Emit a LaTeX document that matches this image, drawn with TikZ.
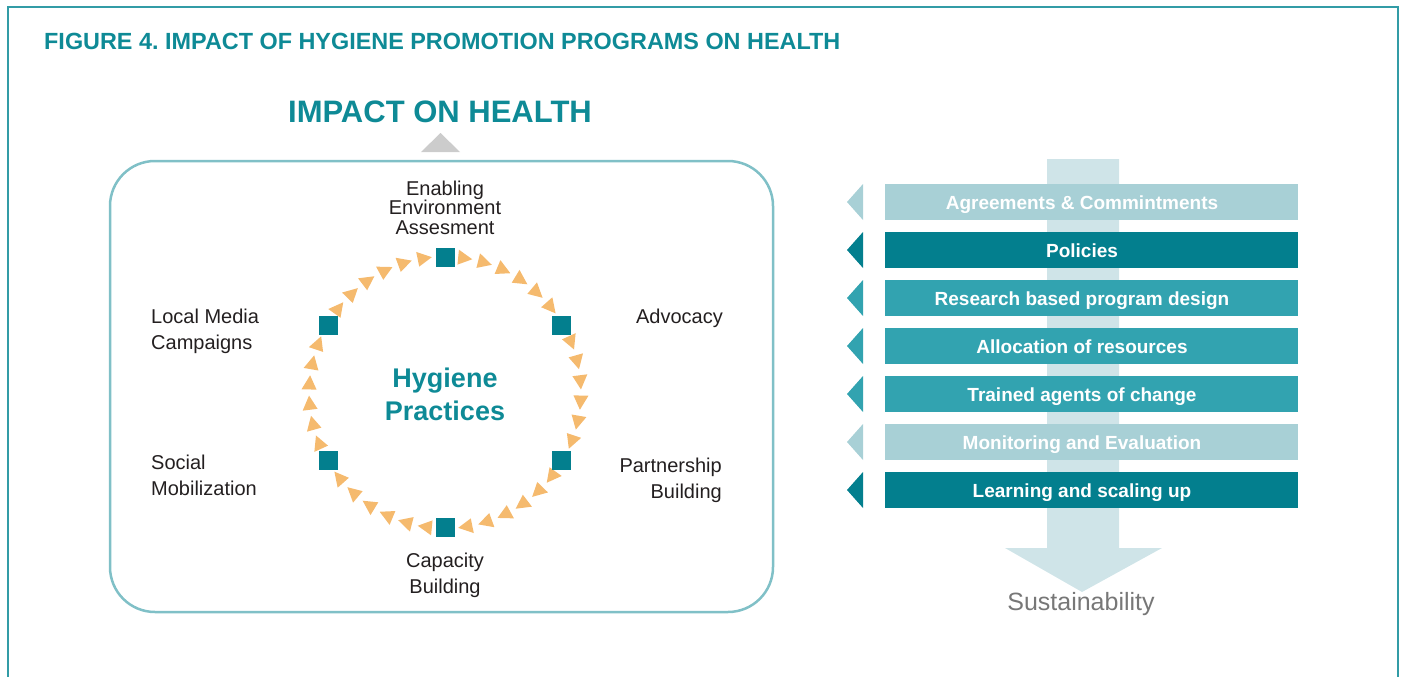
\documentclass[tikz,border=0pt]{standalone}
\usepackage{fontspec}
\setmainfont{Liberation Sans}
\definecolor{tealdark}{HTML}{037F8E}
\definecolor{tealmid}{HTML}{32A3B0}
\definecolor{teallight}{HTML}{A8D0D6}
\definecolor{tealband}{HTML}{CFE4E8}
\definecolor{tealline}{HTML}{80C0C7}
\definecolor{titleteal}{HTML}{0E8A96}
\definecolor{dotorange}{HTML}{F5BA6E}
\definecolor{sustgray}{HTML}{777777}
\definecolor{labeltext}{HTML}{231F20}

\begin{document}
\begin{tikzpicture}
	[x=1pt,y=-1pt,
		lbl/.style={font=\fontsize{20}{25.5}\selectfont,text=labeltext,inner sep=0pt},
		hub/.style={rectangle,fill=tealdark,minimum size=19pt,inner sep=0pt},
		wedge/.style={fill=dotorange},
		bartxt/.style={font=\bfseries\fontsize{19}{19}\selectfont,text=white,inner sep=0pt,anchor=base}]

	\useasboundingbox (0,0) rectangle (1403,677);

	% frame and titles
	\draw[titleteal!85,line width=1.5pt] (8,690) -- (8,7) -- (1398,7) -- (1398,690);
	\node[font=\bfseries\fontsize{23.4}{23.4}\selectfont,text=titleteal,inner sep=0pt,anchor=base west] (title) at (44,50) {FIGURE 4.\ IMPACT OF HYGIENE PROMOTION PROGRAMS ON HEALTH};
	\node[font=\bfseries\fontsize{31}{31}\selectfont,text=titleteal,inner sep=0pt,anchor=base] (impact) at (440,122) {IMPACT ON HEALTH};
	\fill[black!20] (421,152) -- (440.5,133) -- (460,152) -- cycle;

	% cycle box
	\draw[tealline,line width=2.5pt,rounded corners=45pt] (110,161) rectangle (773,612);

	\begin{scope}[shift={(445,392.5)}]
		\foreach \s in {0,...,5}
			\foreach \k in {1,...,6} {
				\pgfmathsetmacro\a{-90+60*\s+60*\k/7}
				\pgfmathsetmacro\tip{\a+3}
				\pgfmathsetmacro\tail{\a-3}
				\fill[wedge] (\tip:136) -- (\tail:128.5) -- (\tail:143.5) -- cycle;
			}
		\foreach \a [count=\i] in {-90,-30,30,90,150,210}
			\node[hub] (hub\i) at (\a:135) {};
	\end{scope}

	% base anchor sits on the last line
	\node[font=\bfseries\fontsize{27}{33}\selectfont,text=titleteal,align=center,inner sep=0pt,anchor=base] (hyg) at (445,420) {Hygiene\\Practices};

	\node[lbl,font=\fontsize{20}{19.5}\selectfont,align=center,anchor=base] (env) at (445,234) {Enabling\\Environment\\Assesment};
	\node[lbl,align=right,anchor=base east] (advo) at (723,323) {Advocacy};
	\node[lbl,align=right,anchor=base east] (partner) at (722,498) {Partnership\\Building};
	\node[lbl,align=center,anchor=base] (capacity) at (445,593) {Capacity\\Building};
	\node[lbl,align=left,anchor=base west] (social) at (151,495) {Social\\Mobilization};
	\node[lbl,align=left,anchor=base west] (media) at (151,349) {Local Media\\Campaigns};

	% sustainability arrow
	\fill[tealband] (1047,159) -- (1119,159) -- (1119,548) -- (1162,548) -- (1082,592) -- (1005,548) -- (1047,548) -- cycle;
	\node[font=\fontsize{25}{25}\selectfont,text=sustgray,inner sep=0pt,anchor=base] (sust) at (1081,610) {Sustainability};

	\foreach \y/\c/\t [count=\i] in {184/teallight/Agreements \& Commintments,
			232/tealdark/Policies,
			280/tealmid/Research based program design,
			328/tealmid/Allocation of resources,
			376/tealmid/Trained agents of change,
			424/teallight/Monitoring and Evaluation,
			472/tealdark/Learning and scaling up} {
		\fill[\c] (885,\y) rectangle (1298,\y+36);
		\fill[\c] (847,\y+18) -- (863,\y) -- (863,\y+36) -- cycle;
		\node[bartxt] (bar\i) at (1082,\y+25) {\t};
	}

\end{tikzpicture}
\end{document}
